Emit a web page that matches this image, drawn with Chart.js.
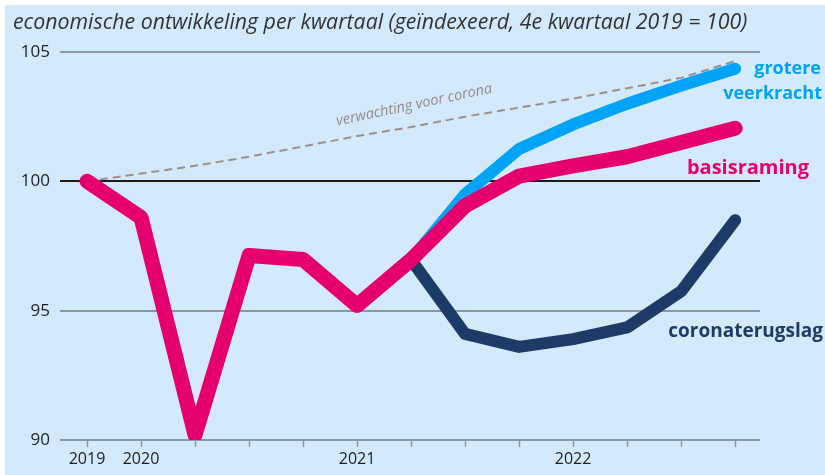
<!DOCTYPE html>
<html>
<head>
<meta charset="utf-8">
<script src="https://cdn.jsdelivr.net/npm/chart.js@4"></script>
<style>
  html, body { margin: 0; padding: 0; background: #fff; }
  #wrap { width: 825px; height: 475px; }
</style>
</head>
<body>
<div id="wrap"><canvas id="chart" width="825" height="475"></canvas></div>
<script>
const quarters = ['2019', '2020', '', '', '', '2021', '', '', '', '2022', '', '', ''];
const basisraming = [100, 98.6, 90.2, 97.13, 96.98, 95.2, 96.97, 99.05, 100.2, 100.6, 100.95, 101.5, 102.05];
const groteVeerkracht = [null, null, null, null, null, null, 96.97, 99.5, 101.25, 102.2, 103.0, 103.7, 104.35];
const coronaterugslag = [null, null, null, null, null, null, 96.97, 94.1, 93.6, 93.9, 94.35, 95.75, 98.5];
const verwachting = [100, 100.3, 100.6, 100.95, 101.35, 101.75, 102.1, 102.5, 102.85, 103.2, 103.6, 104.0, 104.65];
const yTicks = [90, 95, 100, 105];

const PINK = '#e5006d';
const BLUE = '#00a3f5';
const NAVY = '#1c3b66';
const BG = '#d3eafc';

const toPoints = arr => arr.map((v, i) => ({ x: i, y: v }));

// achtergrond, titel en lijnlabels
const decor = {
  id: 'decor',
  beforeDraw(chart) {
    const c = chart.ctx;
    c.save();
    c.fillStyle = '#fff';
    c.fillRect(0, 0, chart.width, chart.height);
    c.fillStyle = BG;
    c.fillRect(5, 5, chart.width - 5, chart.height - 5);
    c.restore();
  },
  afterDraw(chart) {
    const c = chart.ctx;
    c.save();
    c.fillStyle = '#333';
    c.font = 'italic 21.3px "Open Sans"';
    c.textBaseline = 'alphabetic';
    c.fillText('economische ontwikkeling per kwartaal (geïndexeerd, 4e kwartaal 2019 = 100)', 13, 29);

    c.textAlign = 'right';
    c.font = 'bold 18px "Open Sans"';
    c.fillStyle = BLUE;
    c.fillText('grotere', 821, 74);
    c.fillText('veerkracht', 822, 99);
    c.font = 'bold 20px "Open Sans"';
    c.fillStyle = PINK;
    c.fillText('basisraming', 809, 174);
    c.font = 'bold 19px "Open Sans"';
    c.fillStyle = NAVY;
    c.fillText('coronaterugslag', 823, 337);

    c.translate(415, 109);
    c.rotate(-12 * Math.PI / 180);
    c.textAlign = 'center';
    c.font = 'italic 14.5px "Open Sans"';
    c.fillStyle = '#968a86';
    c.fillText('verwachting voor corona', 0, 0);
    c.restore();
  }
};

new Chart(document.getElementById('chart'), {
  type: 'line',
  data: {
    datasets: [
      { data: toPoints(basisraming), borderColor: PINK, borderWidth: 15 },
      { data: toPoints(groteVeerkracht), borderColor: BLUE, borderWidth: 12 },
      { data: toPoints(coronaterugslag), borderColor: NAVY, borderWidth: 12 },
      { data: toPoints(verwachting), borderColor: '#9d908b', borderWidth: 2, borderDash: [8, 5], borderCapStyle: 'butt' }
    ]
  },
  options: {
    responsive: false,
    animation: false,
    devicePixelRatio: 1,
    layout: { padding: { left: 5, right: 65, top: 52, bottom: 0 } },
    elements: {
      point: { radius: 0 },
      line: { tension: 0, fill: false, borderCapStyle: 'round', borderJoinStyle: 'round' }
    },
    plugins: { legend: { display: false }, tooltip: { enabled: false } },
    scales: {
      x: {
        type: 'linear',
        min: -0.5,
        max: 12.46,
        afterBuildTicks: s => { s.ticks = quarters.map((_, i) => ({ value: i })); },
        afterFit: s => { s.height = 35; },
        border: { display: false },
        grid: { drawOnChartArea: false, drawTicks: true, tickLength: 7, tickColor: '#8a98a6', tickWidth: 1.5 },
        ticks: {
          autoSkip: false,
          maxRotation: 0,
          padding: 3,
          color: '#222',
          font: { family: 'Open Sans', size: 16 },
          callback: v => quarters[v]
        }
      },
      y: {
        min: 90,
        max: 105,
        afterBuildTicks: s => { s.ticks = yTicks.map(v => ({ value: v })); },
        afterFit: s => { s.width = 55; },
        border: { display: false },
        grid: {
          drawTicks: false,
          lineWidth: 2,
          color: ctx => ctx.tick && ctx.tick.value === 100 ? '#1a1a1a' : '#8a98a6'
        },
        ticks: {
          padding: 10,
          color: '#222',
          font: { family: 'Open Sans', size: 17 }
        }
      }
    }
  },
  plugins: [decor]
});
</script>
</body>
</html>
